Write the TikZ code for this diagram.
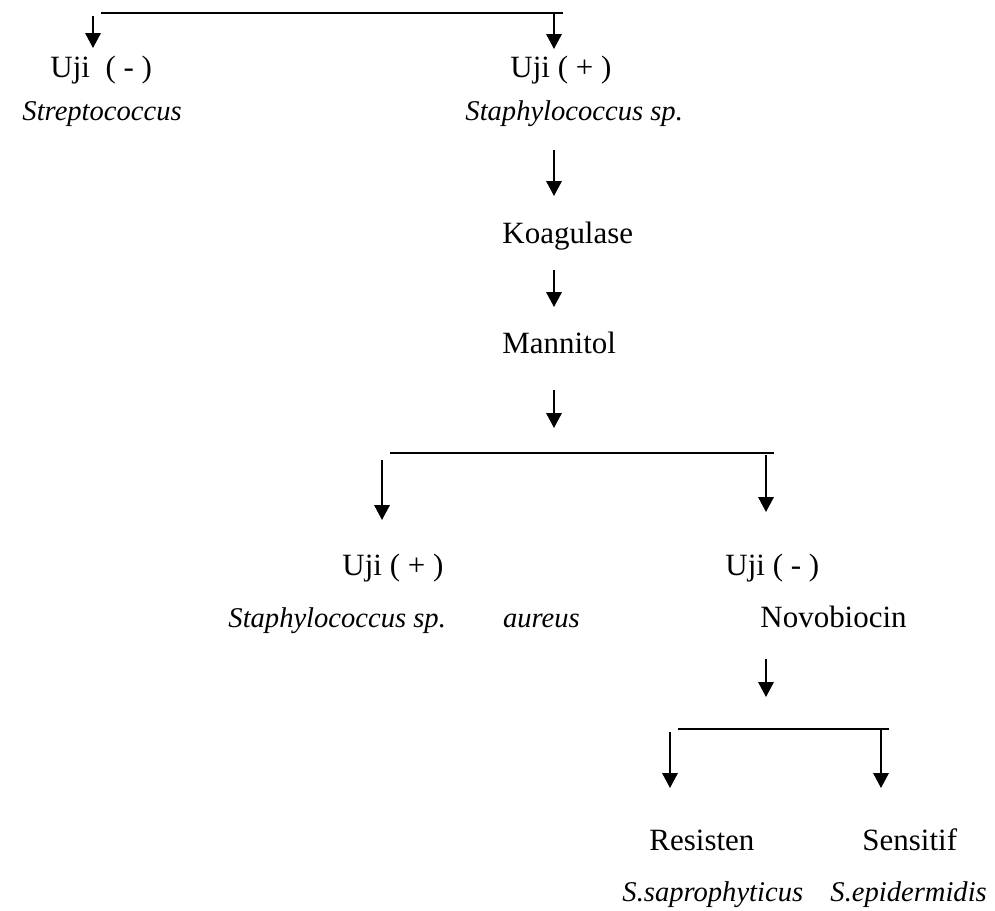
\documentclass[tikz,border=0pt]{standalone}
\usepackage{fontspec}
\setmainfont{Liberation Serif}
\usetikzlibrary{arrows.meta}
\tikzset{
  lbl/.style={inner sep=0pt, anchor=base west, font=\fontsize{13}{15}\selectfont},
  ital/.style={lbl, font=\fontsize{12}{14}\selectfont\itshape},
  arrow/.style={-{Triangle[length=6.2pt,width=6.4pt]}, line width=0.75pt},
  bar/.style={line width=0.75pt}
}
\begin{document}
\begin{tikzpicture}[x=0.42pt, y=-0.42pt]
  \useasboundingbox (0,0) rectangle (995,911);
  % gram / katalase split
  \coordinate (b1l) at (101,13);
  \coordinate (b1r) at (563,13);
  \draw[bar] (b1l) -- (b1r);
  \coordinate (a1s) at (93,16);  \coordinate (a1e) at (93,48);
  \coordinate (a2s) at (554,13); \coordinate (a2e) at (554,49);
  \draw[arrow] (a1s) -- (a1e);
  \draw[arrow] (a2s) -- (a2e);
  \node[lbl] (ujineg) at (50,77) {Uji\ \ ( - )};
  \node[ital] (strep) at (22,120) {Streptococcus};
  \node[lbl] (ujipos) at (510,77) {Uji ( + )};
  \node[ital] (staph) at (465,120) {Staphylococcus sp.};
  % main column
  \coordinate (a3s) at (554,150); \coordinate (a3e) at (554,196);
  \draw[arrow] (a3s) -- (a3e);
  \node[lbl] (koag) at (502,243) {Koagulase};
  \coordinate (a4s) at (554,270); \coordinate (a4e) at (554,307);
  \draw[arrow] (a4s) -- (a4e);
  \node[lbl] (mann) at (502,353) {Mannitol};
  \coordinate (a5s) at (554,390); \coordinate (a5e) at (554,428);
  \draw[arrow] (a5s) -- (a5e);
  % mannitol split
  \coordinate (b2l) at (390,453);
  \coordinate (b2r) at (774,453);
  \draw[bar] (b2l) -- (b2r);
  \coordinate (a6s) at (382,460); \coordinate (a6e) at (382,520);
  \coordinate (a7s) at (766,455); \coordinate (a7e) at (766,512);
  \draw[arrow] (a6s) -- (a6e);
  \draw[arrow] (a7s) -- (a7e);
  \node[lbl] (mpos) at (342,575) {Uji ( + )};
  \node[lbl] (mneg) at (725,575) {Uji ( - )};
  \node[ital] (aureus) at (228,627) {Staphylococcus sp.\hspace{2em}aureus};
  \node[lbl] (novo) at (760,627) {Novobiocin};
  \coordinate (a8s) at (766,659); \coordinate (a8e) at (766,697);
  \draw[arrow] (a8s) -- (a8e);
  % novobiocin split
  \coordinate (b3l) at (678,729);
  \coordinate (b3r) at (889,729);
  \draw[bar] (b3l) -- (b3r);
  \coordinate (a9s) at (670,732);  \coordinate (a9e) at (670,788);
  \coordinate (a10s) at (881,729); \coordinate (a10e) at (881,788);
  \draw[arrow] (a9s) -- (a9e);
  \draw[arrow] (a10s) -- (a10e);
  \node[lbl] (resis) at (649,850) {Resisten};
  \node[lbl] (sens) at (862,850) {Sensitif};
  \node[ital] (sapro) at (622,901) {S.saprophyticus};
  \node[ital] (epid) at (830,901) {S.epidermidis};
\end{tikzpicture}
\end{document}
